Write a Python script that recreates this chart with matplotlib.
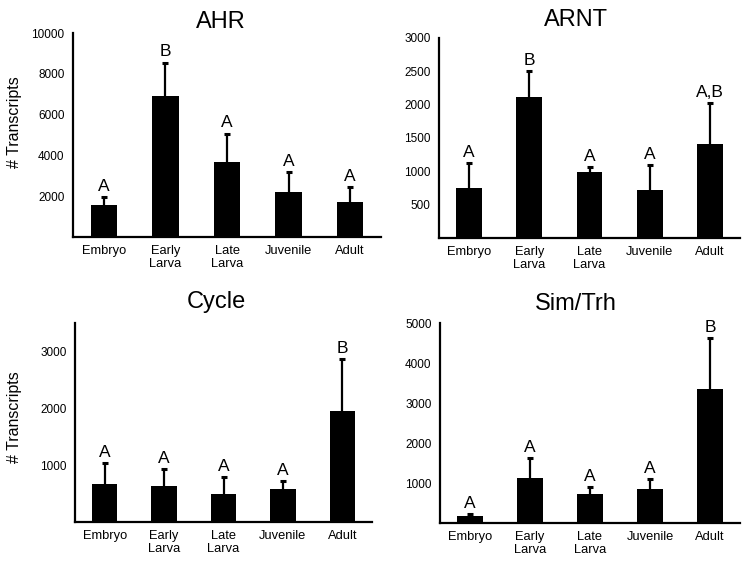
import numpy as np
from matplotlib import pyplot as plt

plt.rcParams['font.family'] = ['Liberation Sans', 'DejaVu Sans']

stages = ["Embryo", "Early\nLarva", "Late\nLarva", "Juvenile", "Adult"]

ahr_mean = [1560, 6930, 3660, 2190, 1710]
ahr_err = [390, 1610, 1410, 980, 730]
ahr_letters = ["A", "B", "A", "A", "A"]

arnt_mean = [750, 2115, 990, 720, 1410]
arnt_err = [375, 390, 75, 375, 615]
arnt_letters = ["A", "B", "A", "A", "A,B"]

cycle_mean = [665, 630, 490, 580, 1950]
cycle_err = [370, 300, 300, 140, 910]
cycle_letters = ["A", "A", "A", "A", "B"]

sim_mean = [175, 1125, 725, 850, 3350]
sim_err = [40, 500, 175, 250, 1270]
sim_letters = ["A", "A", "A", "A", "B"]

W, H = 748, 563

def px_axes(fig, left, top, right, bottom):
    return fig.add_axes([left / W, 1 - bottom / H, (right - left) / W, (bottom - top) / H])

def draw_panel(ax, mean, err, letters, ymax, ticks):
    x = np.arange(len(stages))
    ax.bar(x, mean, width=0.43, color='black', zorder=2)
    eb = ax.errorbar(x, mean, yerr=[np.zeros(len(mean)), err], fmt='none',
                     ecolor='black', elinewidth=1.6, capsize=2.2, capthick=2.2, zorder=1)
    # only keep the upper caps
    eb[1][0].set_visible(False)
    for xi, m, e, lab in zip(x, mean, err, letters):
        ax.annotate(lab, (xi, m + e), xytext=(0, 2.5), textcoords='offset points',
                    ha='center', va='bottom', fontsize=12.5)
    ax.set_xlim(-0.5, 4.5)
    ax.set_ylim(0, ymax)
    ax.set_yticks(ticks)
    ax.set_yticklabels([str(t) for t in ticks], fontsize=8.5)
    ax.set_xticks(x)
    ax.set_xticklabels(stages, fontsize=9.3, linespacing=1.1)
    ax.tick_params(length=0, pad=6)
    for s in ['top', 'right']:
        ax.spines[s].set_visible(False)
    for s in ['left', 'bottom']:
        ax.spines[s].set_linewidth(1.6)

fig = plt.figure(figsize=(7.48, 5.63), dpi=100)

ax1 = px_axes(fig, 73, 33, 381, 237)
draw_panel(ax1, ahr_mean, ahr_err, ahr_letters, 10000, [2000, 4000, 6000, 8000, 10000])
ax2 = px_axes(fig, 439, 38, 740, 238)
draw_panel(ax2, arnt_mean, arnt_err, arnt_letters, 3000, [500, 1000, 1500, 2000, 2500, 3000])
ax3 = px_axes(fig, 75, 323, 372, 522)
draw_panel(ax3, cycle_mean, cycle_err, cycle_letters, 3500, [1000, 2000, 3000])
ax4 = px_axes(fig, 440, 323, 740, 523)
draw_panel(ax4, sim_mean, sim_err, sim_letters, 5000, [1000, 2000, 3000, 4000, 5000])

fig.text(221 / W, 1 - 28 / H, "AHR", ha='center', va='baseline', fontsize=17)
fig.text(576 / W, 1 - 26 / H, "ARNT", ha='center', va='baseline', fontsize=17)
fig.text(216 / W, 1 - 308 / H, "Cycle", ha='center', va='baseline', fontsize=17)
fig.text(576 / W, 1 - 310 / H, "Sim/Trh", ha='center', va='baseline', fontsize=17)

fig.text(15 / W, 1 - 122 / H, "# Transcripts", rotation=90, ha='center', va='center', fontsize=11.5)
fig.text(15 / W, 1 - 417 / H, "# Transcripts", rotation=90, ha='center', va='center', fontsize=11.5)

fig.savefig("out.png", dpi=100)
